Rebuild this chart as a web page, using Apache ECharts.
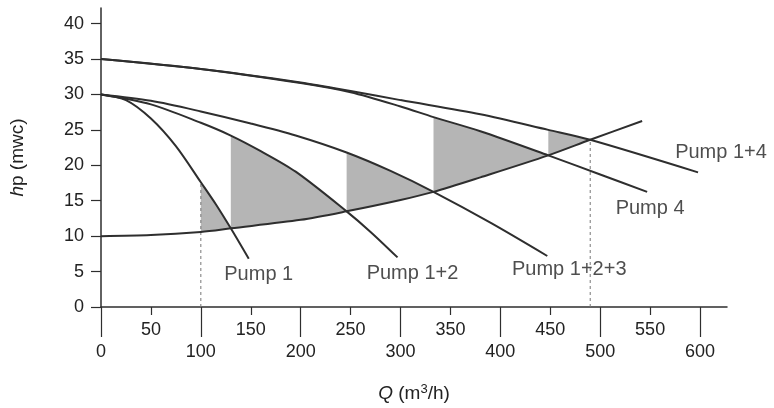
<!DOCTYPE html>
<html>
<head>
<meta charset="utf-8">
<script src="https://cdn.jsdelivr.net/npm/echarts@6/dist/echarts.min.js"></script>
<style>
  html, body { margin: 0; padding: 0; background: #ffffff; }
  #chart { width: 774px; height: 408px; }
</style>
</head>
<body>
<div id="chart"></div>
<script>
// Pump characteristic curves: head hp (mwc) against flow Q (m3/h)
const pump1   = [[0, 30], [25, 29.2], [50, 26.6], [75, 22.7], [100, 17.6], [115, 14.5], [130, 11.1], [148, 6.8]];
const pump12  = [[0, 30], [50, 28.6], [100, 26.0], [130, 24.2], [160, 22.0], [195, 19.1], [246, 13.5], [270, 10.6], [297, 7.0]];
const pump123 = [[0, 30], [50, 29.1], [100, 27.6], [150, 25.9], [195, 24.2], [246, 21.8], [290, 19.2], [333, 16.25], [390, 11.9], [447, 7.2]];
const pump4   = [[0, 35], [100, 33.6], [200, 31.6], [250, 30.3], [300, 28.3], [333, 26.8], [380, 24.8], [448, 21.4], [500, 18.7], [547, 16.25]];
const pump14  = [[0, 35], [100, 33.6], [200, 31.7], [250, 30.5], [300, 29.2], [380, 27.2], [448, 25.0], [490, 23.6], [598, 19.0]];
// System (pipe network) curve
const systemCurve = [[0, 10], [50, 10.15], [100, 10.6], [130, 11.1], [200, 12.3], [246, 13.5], [300, 15.1], [333, 16.25], [380, 18.3], [448, 21.4], [490, 23.6], [542, 26.25]];

// Shaded bands between a pump curve and the system curve
const bandFrom = [100, 130, 246, 333, 448];
const bandTo   = [130, 246, 333, 448, 490];
const bandTop  = [pump1, pump12, pump123, pump4, pump14];

// Vertical dotted guides: Q and the curve they rise to
const guideQ     = [100, 490];
const guideCurve = [pump1, systemCurve];

const curveNames = ['Pump 1', 'Pump 1+2', 'Pump 1+2+3', 'Pump 4', 'Pump 1+4'];
const curveData  = [pump1, pump12, pump123, pump4, pump14];

const xMajorTicks = [0, 100, 200, 300, 400, 500, 600];
const xMinorTicks = [50, 150, 250, 350, 450, 550];
const yTicks = [0, 5, 10, 15, 20, 25, 30, 35, 40];

// Where each curve name is written (data coordinates of the text centre)
const labelAt = [[158, 4.6], [312, 4.7], [469, 5.3], [550, 13.9], [621, 21.8]];

const INK = '#2e2e2e';
const FONT = '"Liberation Sans", Arial, Helvetica, sans-serif';

function valueAt(curve, q) {
  const p = curve.find(d => d[0] === q);
  return p ? p[1] : 0;
}

const bandPolys = bandFrom.map((from, i) => {
  const to = bandTo[i];
  const top = bandTop[i].filter(d => d[0] >= from && d[0] <= to);
  const bottom = systemCurve.filter(d => d[0] >= from && d[0] <= to).slice().reverse();
  return top.concat(bottom);
});

const chart = echarts.init(document.getElementById('chart'), null, { renderer: 'canvas' });

const series = [];

series.push({
  type: 'custom',
  coordinateSystem: 'cartesian2d',
  data: bandFrom.map((f, i) => [f, bandTo[i]]),
  encode: { x: [0, 1] },
  z: 1,
  silent: true,
  renderItem: function (params, api) {
    const pts = bandPolys[params.dataIndex].map(p => api.coord(p));
    return { type: 'polygon', shape: { points: pts }, style: { fill: '#b5b5b5', stroke: null } };
  }
});

guideQ.forEach((q, i) => {
  series.push({
    type: 'line',
    data: [[q, 0], [q, valueAt(guideCurve[i], q)]],
    symbol: 'none',
    z: 2,
    silent: true,
    lineStyle: { color: '#777', width: 1, type: [3, 3] }
  });
});

curveData.forEach((c, i) => {
  series.push({
    type: 'line',
    name: curveNames[i],
    data: c,
    smooth: 0.3,
    symbol: 'none',
    z: 3,
    silent: true,
    lineStyle: { color: INK, width: 2 }
  });
});

series.push({
  type: 'line',
  name: 'System',
  data: systemCurve,
  smooth: 0.3,
  symbol: 'none',
  z: 3,
  silent: true,
  lineStyle: { color: INK, width: 2 }
});

series.push({
  type: 'scatter',
  data: curveNames.map((n, i) => ({ name: n, value: labelAt[i] })),
  symbolSize: 0,
  clip: false,
  silent: true,
  z: 5,
  label: {
    show: true,
    position: 'inside',
    formatter: p => p.name,
    color: '#222',
    fontSize: 20,
    fontFamily: FONT
  }
});

const option = {
  backgroundColor: '#ffffff',
  animation: false,
  grid: { left: 100, top: 8, width: 627, height: 304, containLabel: false },
  xAxis: [
    {
      type: 'value', min: 0, max: 627,
      name: '{i|Q} (m{sup|3}/h)',
      nameLocation: 'middle',
      nameGap: 76,
      nameTextStyle: {
        color: '#222', fontSize: 19, fontFamily: FONT,
        rich: {
          i: { fontStyle: 'italic', fontSize: 19, fontFamily: FONT, color: '#222' },
          sup: { fontSize: 13, fontFamily: FONT, color: '#222', verticalAlign: 'bottom', padding: [0, 0, 8, 0] }
        }
      },
      axisLine: { show: true, onZero: false, lineStyle: { color: INK, width: 1.5 } },
      axisTick: { show: true, inside: false, length: 30, customValues: xMajorTicks, lineStyle: { color: INK, width: 1.2 } },
      axisLabel: { customValues: xMajorTicks, margin: 36, color: '#222', fontSize: 18, fontFamily: FONT },
      splitLine: { show: false }
    },
    {
      type: 'value', min: 0, max: 627, position: 'bottom',
      axisLine: { show: false },
      axisTick: { show: true, length: 8, customValues: xMinorTicks, lineStyle: { color: INK, width: 1.2 } },
      axisLabel: { customValues: xMinorTicks, margin: 14, color: '#222', fontSize: 18, fontFamily: FONT },
      splitLine: { show: false }
    }
  ],
  yAxis: {
    type: 'value', min: 0, max: 42.2,
    name: '{i|h}p (mwc)',
    nameLocation: 'middle',
    nameGap: 74,
    nameRotate: 90,
    nameTextStyle: {
      color: '#222', fontSize: 19, fontFamily: FONT,
      rich: { i: { fontStyle: 'italic', fontSize: 19, fontFamily: FONT, color: '#222' } }
    },
    axisLine: { show: true, lineStyle: { color: INK, width: 1.5 } },
    axisTick: { show: true, length: 10, customValues: yTicks, lineStyle: { color: INK, width: 1.2 } },
    axisLabel: { customValues: yTicks, margin: 17, color: '#222', fontSize: 18, fontFamily: FONT },
    splitLine: { show: false }
  },
  series: series
};

chart.setOption(option);
</script>
</body>
</html>
